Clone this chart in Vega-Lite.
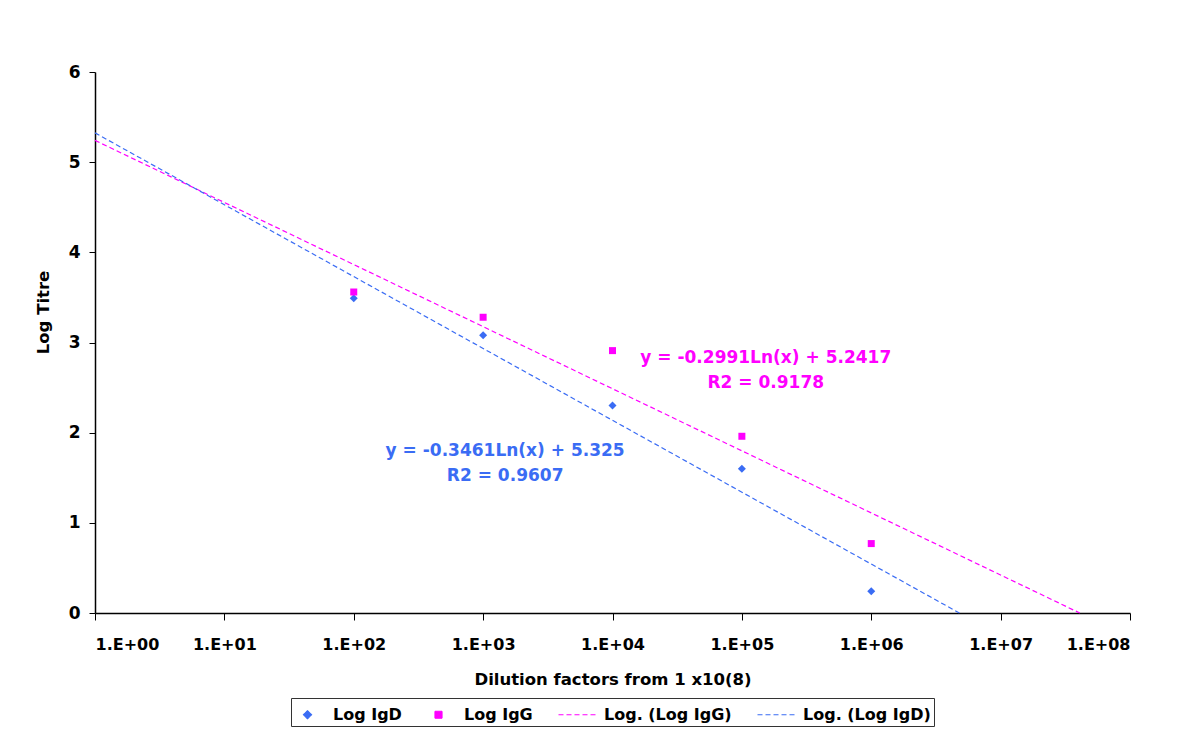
{
  "$schema": "https://vega.github.io/schema/vega-lite/v6.json",
  "width": 1035,
  "height": 541,
  "autosize": {"type": "none"},
  "padding": {"left": 95, "top": 72, "right": 48, "bottom": 122},
  "background": "white",
  "config": {
    "view": {"stroke": null},
    "font": "DejaVu Sans",
    "axis": {"grid": false, "domainColor": "black", "tickColor": "black", "labelColor": "black", "titleColor": "black", "labelFontWeight": "bold", "titleFontWeight": "bold", "labelFont": "DejaVu Sans", "titleFont": "DejaVu Sans"}
  },
  "datasets": {
    "points": [
      {"dilution": 100, "titre": 3.49, "series": "Log IgD"},
      {"dilution": 1000, "titre": 3.08, "series": "Log IgD"},
      {"dilution": 10000, "titre": 2.30, "series": "Log IgD"},
      {"dilution": 100000, "titre": 1.60, "series": "Log IgD"},
      {"dilution": 1000000, "titre": 0.24, "series": "Log IgD"},
      {"dilution": 100, "titre": 3.56, "series": "Log IgG"},
      {"dilution": 1000, "titre": 3.28, "series": "Log IgG"},
      {"dilution": 10000, "titre": 2.91, "series": "Log IgG"},
      {"dilution": 100000, "titre": 1.96, "series": "Log IgG"},
      {"dilution": 1000000, "titre": 0.77, "series": "Log IgG"}
    ],
    "trends": [
      {"dilution": 1, "titre": 5.2417, "series": "Log. (Log IgG)"},
      {"dilution": 40900000, "titre": 0, "series": "Log. (Log IgG)"},
      {"dilution": 1, "titre": 5.325, "series": "Log. (Log IgD)"},
      {"dilution": 4800000, "titre": 0, "series": "Log. (Log IgD)"}
    ],
    "labels": [
      {"dilution": 1480, "titre": 1.80, "line1": "y = -0.3461Ln(x) + 5.325", "line2": "R2 = 0.9607"},
      {"dilution": 153000, "titre": 2.83, "line1": "y = -0.2991Ln(x) + 5.2417", "line2": "R2 = 0.9178"}
    ]
  },
  "encoding": {
    "x": {
      "field": "dilution", "type": "quantitative",
      "scale": {"type": "log", "domain": [1, 100000000], "nice": false},
      "axis": {"values": [1, 10, 100, 1000, 10000, 100000, 1000000, 10000000, 100000000],
        "labelExpr": "'1.E+0' + round(log(datum.value)/LN10)",
        "labelFontSize": 16, "labelPadding": 16, "tickSize": 7, "title": "Dilution factors from 1 x10(8)",
        "titleFontSize": 16.5, "titlePadding": 19, "domainWidth": 1.5}
    },
    "y": {
      "field": "titre", "type": "quantitative",
      "scale": {"domain": [0, 6], "nice": false},
      "axis": {"values": [0, 1, 2, 3, 4, 5, 6], "labelFontSize": 17, "labelPadding": 9, "tickSize": 6,
        "title": "Log Titre", "titleFontSize": 16.5, "titlePadding": 17, "titleY": 240, "domainWidth": 1.5}
    }
  },
  "layer": [
    {
      "data": {"name": "trends"},
      "mark": {"type": "line", "strokeWidth": 1.2},
      "encoding": {
        "color": {"field": "series", "type": "nominal",
          "scale": {"domain": ["Log IgD", "Log IgG", "Log. (Log IgG)", "Log. (Log IgD)"], "range": ["#3a6cf4", "#ff00ff", "#ff00ff", "#3a6cf4"]}},
        "strokeDash": {"field": "series", "type": "nominal",
          "scale": {"domain": ["Log IgD", "Log IgG", "Log. (Log IgG)", "Log. (Log IgD)"], "range": [[1, 0], [1, 0], [5, 3], [5, 3]]}}
      }
    },
    {
      "data": {"name": "points"},
      "mark": {"type": "point", "filled": true, "opacity": 1, "size": 625, "strokeWidth": 1.2},
      "encoding": {
        "color": {"field": "series", "type": "nominal",
          "legend": {"orient": "none", "legendX": 196, "legendY": 626, "direction": "horizontal", "title": null, "strokeColor": "#333333", "padding": 3,
            "labelFont": "DejaVu Sans", "labelFontSize": 16, "labelFontWeight": "bold", "labelColor": "black", "symbolSize": 625, "symbolStrokeWidth": 1.2, "columnPadding": 23, "labelOffset": 12}},
        "shape": {"field": "series", "type": "nominal",
          "scale": {"domain": ["Log IgD", "Log IgG", "Log. (Log IgG)", "Log. (Log IgD)"], "range": ["M0,-0.32L0.32,0L0,0.32L-0.32,0Z", "M-0.28,-0.28H0.28V0.28H-0.28Z", "M-1.6,0H1.6", "M-1.6,0H1.6"]}},
        "strokeDash": {"field": "series", "type": "nominal"}
      }
    },
    {
      "data": {"name": "labels"},
      "transform": [{"filter": "datum.dilution < 10000"}],
      "mark": {"type": "text", "fontSize": 17, "fontWeight": "bold", "align": "center", "baseline": "middle", "color": "#3a6cf4", "font": "DejaVu Sans"},
      "encoding": {"text": {"field": "line1"}}
    },
    {
      "data": {"name": "labels"},
      "transform": [{"filter": "datum.dilution < 10000"}],
      "mark": {"type": "text", "fontSize": 17, "fontWeight": "bold", "align": "center", "baseline": "middle", "dy": 25, "color": "#3a6cf4", "font": "DejaVu Sans"},
      "encoding": {"text": {"field": "line2"}}
    },
    {
      "data": {"name": "labels"},
      "transform": [{"filter": "datum.dilution > 10000"}],
      "mark": {"type": "text", "fontSize": 17, "fontWeight": "bold", "align": "center", "baseline": "middle", "color": "#ff00ff", "font": "DejaVu Sans"},
      "encoding": {"text": {"field": "line1"}}
    },
    {
      "data": {"name": "labels"},
      "transform": [{"filter": "datum.dilution > 10000"}],
      "mark": {"type": "text", "fontSize": 17, "fontWeight": "bold", "align": "center", "baseline": "middle", "dy": 25, "color": "#ff00ff", "font": "DejaVu Sans"},
      "encoding": {"text": {"field": "line2"}}
    }
  ]
}
